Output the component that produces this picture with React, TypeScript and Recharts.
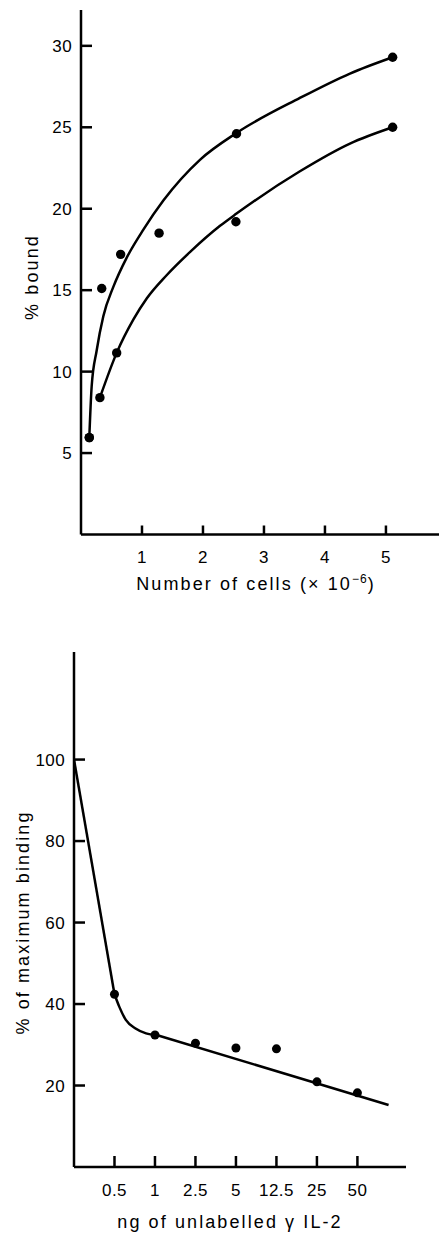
import React from 'react';
import { ComposedChart, Line, Scatter, XAxis, YAxis, Label } from 'recharts';

// ---- Top panel: % bound vs number of cells ----
const cellTicks = [1, 2, 3, 4, 5];
const boundTicks = [5, 10, 15, 20, 25, 30];

const upperDotX = [0.136, 0.34, 0.65, 1.28, 2.55, 5.11];
const upperDotY = [5.95, 15.1, 17.2, 18.5, 24.6, 29.3];
const lowerDotX = [0.136, 0.31, 0.585, 2.54, 5.11];
const lowerDotY = [5.95, 8.4, 11.15, 19.2, 25.0];

const upperCurveX = [0.136, 0.175, 0.257, 0.366, 0.53, 0.75, 1.02, 1.35, 1.95, 2.55, 3.59, 4.41, 5.11];
const upperCurveY = [5.95, 9.1, 11.3, 13.4, 15.2, 17.0, 18.7, 20.5, 23.0, 24.65, 26.8, 28.3, 29.3];
const lowerCurveX = [0.31, 0.585, 0.86, 1.08, 1.4, 1.79, 2.28, 2.55, 3.59, 4.41, 5.11];
const lowerCurveY = [8.4, 11.15, 13.2, 14.5, 15.9, 17.35, 18.95, 19.7, 22.3, 24.0, 25.0];

// ---- Bottom panel: % of maximum binding vs ng unlabelled IL-2 ----
const doseLabels = ['0.5', '1', '2.5', '5', '12.5', '25', '50'];
const doseTickPos = [1, 2, 3, 4, 5, 6, 7];
const bindingTicks = [20, 40, 60, 80, 100];
const bindingDots = [42.4, 32.4, 30.4, 29.2, 29.0, 20.9, 18.2];

const steepX = [0, 1];
const steepY = [100, 42.4];
const bendX = [1, 1.12, 1.28, 1.52, 1.78, 2.04];
const bendY = [42.4, 39.3, 36.1, 34.0, 32.8, 32.4];
const tailX = [2.04, 7.77];
const tailY = [32.4, 15.2];

const zip = (xs: number[], ys: number[]) => xs.map((x, i) => ({ x, y: ys[i] }));

const upperDots = zip(upperDotX, upperDotY);
const lowerDots = zip(lowerDotX, lowerDotY);
const upperCurve = zip(upperCurveX, upperCurveY);
const lowerCurve = zip(lowerCurveX, lowerCurveY);
const doseDots = zip(doseTickPos, bindingDots);
const steepLine = zip(steepX, steepY);
const bendLine = zip(bendX, bendY);
const tailLine = zip(tailX, tailY);

const FONT = '"Liberation Sans", Arial, Helvetica, sans-serif';
const INK = '#000';

const tickText = { fontFamily: FONT, fontSize: 17, letterSpacing: 0.4, fill: INK } as const;
const titleText = { fontFamily: FONT, fontSize: 18, letterSpacing: 2.1, fill: INK } as const;

const makeYTick = (len: number) => (props: any) => {
  const { x, y, payload } = props;
  return (
    <g>
      <line x1={x} x2={x + len} y1={y} y2={y} stroke={INK} strokeWidth={2.5} />
      <text x={x - 9} y={y} dy="0.36em" textAnchor="end" style={tickText}>
        {payload.value}
      </text>
    </g>
  );
};

const makeXTick = (len: number, gap: number, fmt?: (v: number) => string) => (props: any) => {
  const { x, y, payload } = props;
  return (
    <g>
      <line x1={x} x2={x} y1={y} y2={y - len} stroke={INK} strokeWidth={2.5} />
      <text x={x} y={y + gap} textAnchor="middle" style={tickText}>
        {fmt ? fmt(payload.value) : payload.value}
      </text>
    </g>
  );
};

const Dot = (r: number) => (props: any) => <circle cx={props.cx} cy={props.cy} r={r} fill={INK} />;

const doseFmt = (v: number) => doseLabels[doseTickPos.indexOf(v)] ?? '';

export default function App() {
  return (
    <div style={{ position: 'absolute', left: 0, top: 0, width: 439, height: 1236, background: '#fff' }}>
      <div style={{ position: 'absolute', left: 0, top: 0 }}>
        <ComposedChart width={439} height={610} margin={{ top: 10, right: 0, bottom: 35.5, left: 21 }}>
          <XAxis
            dataKey="x"
            type="number"
            domain={[0, 5.87]}
            ticks={cellTicks}
            allowDataOverflow
            height={40}
            tickSize={0}
            tickMargin={0}
            axisLine={{ stroke: INK, strokeWidth: 2.5 }}
            tickLine={false}
            tick={makeXTick(9, 28)}
          >
            <Label
              content={() => (
                <text x={256} y={590} textAnchor="middle" style={titleText}>
                  Number of cells (× 10
                  <tspan dy={-7} fontSize={12} letterSpacing={1}>−6</tspan>
                  <tspan dy={7}>)</tspan>
                </text>
              )}
            />
          </XAxis>
          <YAxis
            type="number"
            domain={[0, 32.2]}
            ticks={boundTicks}
            allowDataOverflow
            width={60}
            tickSize={0}
            tickMargin={0}
            axisLine={{ stroke: INK, strokeWidth: 2.5 }}
            tickLine={false}
            tick={makeYTick(11)}
          >
            <Label
              content={() => (
                <text x={38} y={277} transform="rotate(-90 38 277)" textAnchor="middle" style={titleText}>
                  % bound
                </text>
              )}
            />
          </YAxis>
          <Line data={upperCurve} dataKey="y" type="monotone" stroke={INK} strokeWidth={2.5} dot={false} isAnimationActive={false} />
          <Line data={lowerCurve} dataKey="y" type="monotone" stroke={INK} strokeWidth={2.5} dot={false} isAnimationActive={false} />
          <Scatter data={upperDots} dataKey="y" shape={Dot(4.7)} isAnimationActive={false} />
          <Scatter data={lowerDots} dataKey="y" shape={Dot(4.7)} isAnimationActive={false} />
        </ComposedChart>
      </div>
      <div style={{ position: 'absolute', left: 0, top: 620 }}>
        <ComposedChart width={439} height={616} margin={{ top: 32, right: 33, bottom: 29, left: 14 }}>
          <XAxis
            dataKey="x"
            type="number"
            domain={[0, 8.2]}
            ticks={doseTickPos}
            allowDataOverflow
            height={40}
            tickSize={0}
            tickMargin={0}
            axisLine={{ stroke: INK, strokeWidth: 2.5 }}
            tickLine={false}
            tick={makeXTick(11, 29, doseFmt)}
          >
            <Label
              content={() => (
                <text x={230} y={608} textAnchor="middle" style={titleText}>
                  ng of unlabelled γ IL-2
                </text>
              )}
            />
          </XAxis>
          <YAxis
            type="number"
            domain={[0, 126.4]}
            ticks={bindingTicks}
            allowDataOverflow
            width={60}
            tickSize={0}
            tickMargin={0}
            axisLine={{ stroke: INK, strokeWidth: 2.5 }}
            tickLine={false}
            tick={makeYTick(11)}
          >
            <Label
              content={() => (
                <text x={29} y={302.5} transform="rotate(-90 29 302.5)" textAnchor="middle" style={titleText}>
                  % of maximum binding
                </text>
              )}
            />
          </YAxis>
          <Line data={steepLine} dataKey="y" type="linear" stroke={INK} strokeWidth={2.5} dot={false} isAnimationActive={false} />
          <Line data={bendLine} dataKey="y" type="monotone" stroke={INK} strokeWidth={2.5} dot={false} isAnimationActive={false} />
          <Line data={tailLine} dataKey="y" type="linear" stroke={INK} strokeWidth={2.5} dot={false} isAnimationActive={false} />
          <Scatter data={doseDots} dataKey="y" shape={Dot(4.5)} isAnimationActive={false} />
        </ComposedChart>
      </div>
    </div>
  );
}
